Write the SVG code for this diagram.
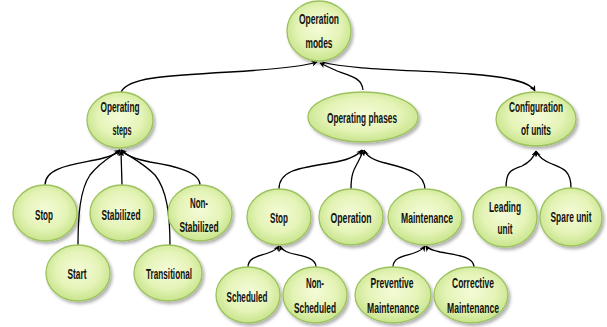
<svg xmlns="http://www.w3.org/2000/svg" width="607" height="327" viewBox="0 0 607 327">
<defs>
<radialGradient id="g" cx="50%" cy="45%" r="55%">
<stop offset="0" stop-color="#f4fbd8"/>
<stop offset="0.6" stop-color="#e5f4b8"/>
<stop offset="1" stop-color="#c8e48c"/>
</radialGradient>
<filter id="sh" x="-20%" y="-20%" width="150%" height="150%">
<feDropShadow dx="2" dy="2.5" stdDeviation="1.5" flood-color="#000" flood-opacity="0.3"/>
</filter>
<marker id="ar" viewBox="0 0 10 10" refX="9" refY="5" markerWidth="6" markerHeight="6" orient="auto" markerUnits="userSpaceOnUse">
<path d="M0,0 L10,5 L0,10 L3,5 Z" fill="#000"/>
</marker>
</defs>
<style>
.n ellipse{fill:url(#g);stroke:#9cc25e;stroke-width:1.3;filter:url(#sh)}
.n text{font-family:"Liberation Sans",Arial,sans-serif;font-weight:bold;font-size:15.5px;fill:#111;text-anchor:middle}
.c path{fill:none;stroke:#000;stroke-width:1.3;marker-end:url(#ar)}
</style>
<g class="c" id="connectors">
<path d="M121,92 C128,78 160,76 230,72 C280,69 305,66 317,62"/>
<path d="M363,90 C362,76 345,75 335,70 C328,67 324,65 320,63"/>
<path d="M322,62 C350,70 420,70 470,74 C510,77 530,82 535,91"/>
<path d="M45,185 C45,168 70,165 95,160 C110,157 117,154 120,150"/>
<path d="M78,246 C78,215 80,190 90,175 C100,162 112,156 120,150"/>
<path d="M122,185 L121,151"/>
<path d="M170,246 C170,215 167,190 155,175 C142,162 128,156 121,150"/>
<path d="M200,185 C200,172 175,166 150,162 C135,159 125,155 121,150"/>
<path d="M279,189 C279,170 300,168 330,163 C350,160 358,155 362,150"/>
<path d="M351,189 C351,172 355,168 358,162 C361,157 362,154 363,150"/>
<path d="M425,190 C425,172 405,168 385,163 C372,160 366,155 364,150"/>
<path d="M248,267 C248,257 260,256 268,253 C274,251 277,249 279,246"/>
<path d="M316,267 C316,257 300,256 290,253 C284,251 281,249 280,246"/>
<path d="M393,267 C393,257 405,256 414,253 C420,251 423,249 425,246"/>
<path d="M474,267 C474,256 455,255 440,252 C432,250 428,249 426,246"/>
<path d="M506,188 C506,170 512,170 522,166 C530,162 534,157 536,151"/>
<path d="M571,188 C571,170 562,168 552,164 C542,160 538,156 536,151"/>
</g>
<g class="n" id="operation-modes"><ellipse cx="319" cy="31" rx="32" ry="30"/><text x="319" y="24" textLength="40" lengthAdjust="spacingAndGlyphs">Operation</text><text x="319" y="48" textLength="27" lengthAdjust="spacingAndGlyphs">modes</text></g>
<g class="n" id="operating-steps"><ellipse cx="120" cy="120" rx="33" ry="28"/><text x="120" y="112" textLength="39" lengthAdjust="spacingAndGlyphs">Operating</text><text x="122" y="135" textLength="19" lengthAdjust="spacingAndGlyphs">steps</text></g>
<g class="n" id="operating-phases"><ellipse cx="363" cy="117" rx="55" ry="25"/><text x="362" y="123" textLength="70" lengthAdjust="spacingAndGlyphs">Operating phases</text></g>
<g class="n" id="configuration"><ellipse cx="536" cy="119" rx="40" ry="27"/><text x="536" y="112" textLength="54" lengthAdjust="spacingAndGlyphs">Configuration</text><text x="536" y="135" textLength="30" lengthAdjust="spacingAndGlyphs">of units</text></g>
<g class="n" id="stop1"><ellipse cx="45" cy="213" rx="32" ry="28"/><text x="44" y="220" textLength="18" lengthAdjust="spacingAndGlyphs">Stop</text></g>
<g class="n" id="stabilized"><ellipse cx="122" cy="213" rx="32" ry="28"/><text x="121" y="220" textLength="39" lengthAdjust="spacingAndGlyphs">Stabilized</text></g>
<g class="n" id="non-stabilized"><ellipse cx="200" cy="213" rx="32" ry="28"/><text x="199" y="208" textLength="18" lengthAdjust="spacingAndGlyphs">Non-</text><text x="199" y="232" textLength="39" lengthAdjust="spacingAndGlyphs">Stabilized</text></g>
<g class="n" id="start"><ellipse cx="78" cy="273" rx="32" ry="28"/><text x="77" y="279" textLength="19" lengthAdjust="spacingAndGlyphs">Start</text></g>
<g class="n" id="transitional"><ellipse cx="168" cy="273" rx="34" ry="28"/><text x="169" y="279" textLength="46" lengthAdjust="spacingAndGlyphs">Transitional</text></g>
<g class="n" id="stop2"><ellipse cx="279" cy="217" rx="32" ry="28"/><text x="279" y="223" textLength="18" lengthAdjust="spacingAndGlyphs">Stop</text></g>
<g class="n" id="operation"><ellipse cx="351" cy="217" rx="32" ry="28"/><text x="351" y="223" textLength="41" lengthAdjust="spacingAndGlyphs">Operation</text></g>
<g class="n" id="maintenance"><ellipse cx="425" cy="217" rx="37" ry="28"/><text x="427" y="223" textLength="52" lengthAdjust="spacingAndGlyphs">Maintenance</text></g>
<g class="n" id="scheduled"><ellipse cx="248" cy="295" rx="32" ry="28"/><text x="247" y="302" textLength="41" lengthAdjust="spacingAndGlyphs">Scheduled</text></g>
<g class="n" id="non-scheduled"><ellipse cx="315" cy="295" rx="32" ry="28"/><text x="315" y="288" textLength="18" lengthAdjust="spacingAndGlyphs">Non-</text><text x="315" y="313" textLength="42" lengthAdjust="spacingAndGlyphs">Scheduled</text></g>
<g class="n" id="preventive"><ellipse cx="393" cy="295" rx="38" ry="28"/><text x="392" y="288" textLength="43" lengthAdjust="spacingAndGlyphs">Preventive</text><text x="393" y="313" textLength="52" lengthAdjust="spacingAndGlyphs">Maintenance</text></g>
<g class="n" id="corrective"><ellipse cx="471" cy="295" rx="37" ry="28"/><text x="473" y="288" textLength="42" lengthAdjust="spacingAndGlyphs">Corrective</text><text x="473" y="313" textLength="52" lengthAdjust="spacingAndGlyphs">Maintenance</text></g>
<g class="n" id="leading-unit"><ellipse cx="505" cy="217" rx="32" ry="30"/><text x="505" y="212" textLength="32" lengthAdjust="spacingAndGlyphs">Leading</text><text x="505" y="234" textLength="15" lengthAdjust="spacingAndGlyphs">unit</text></g>
<g class="n" id="spare-unit"><ellipse cx="571" cy="217" rx="31" ry="29"/><text x="571" y="222" textLength="41" lengthAdjust="spacingAndGlyphs">Spare unit</text></g>
</svg>
